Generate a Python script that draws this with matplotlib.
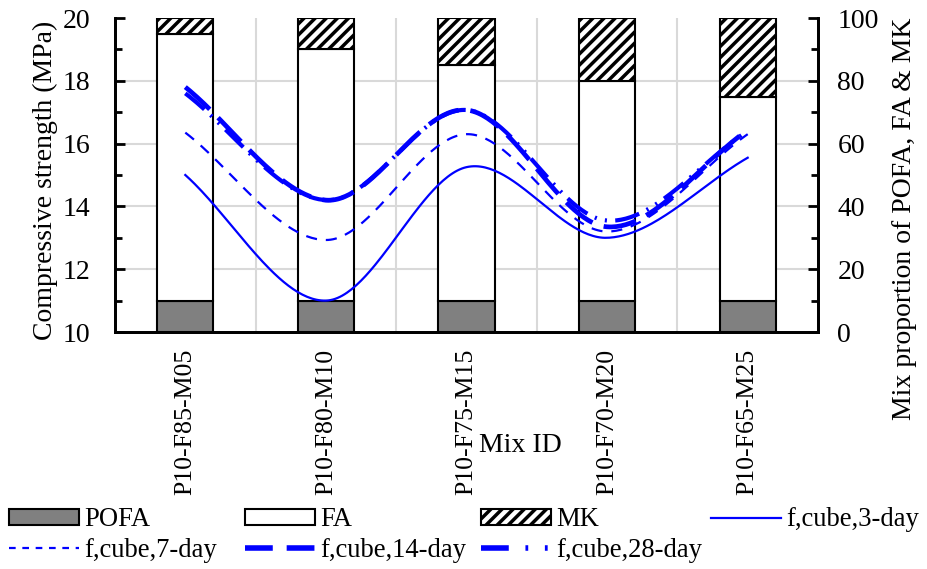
import numpy as np
import matplotlib
matplotlib.use("Agg")
import matplotlib.pyplot as plt
from matplotlib.patches import Patch
from matplotlib.lines import Line2D
from matplotlib.ticker import MultipleLocator

plt.rcParams['font.family'] = ['Liberation Serif', 'DejaVu Serif']
plt.rcParams['hatch.linewidth'] = 2.5

mix_ids = ["P10-F85-M05", "P10-F80-M10", "P10-F75-M15", "P10-F70-M20", "P10-F65-M25"]
pofa = [10, 10, 10, 10, 10]
fa = [85, 80, 75, 70, 65]
mk = [5, 10, 15, 20, 25]
f3 = [15.0, 11.0, 15.25, 13.0, 15.55]
f7 = [16.35, 12.93, 16.3, 13.2, 16.3]
f14 = [17.8, 14.2, 17.07, 13.35, 16.43]
f28 = [17.6, 14.2, 17.07, 13.55, 16.4]

FS = 20
FS_LEG = 19.2
FS_TICK = 18.6

def catmull(xs, ys, n=60):
    xs = np.asarray(xs, float); ys = np.asarray(ys, float)
    px = np.concatenate([[2*xs[0]-xs[1]], xs, [2*xs[-1]-xs[-2]]])
    py = np.concatenate([[2*ys[0]-ys[1]], ys, [2*ys[-1]-ys[-2]]])
    ox, oy = [], []
    for i in range(1, len(px)-2):
        t = np.linspace(0, 1, n, endpoint=False)
        for p, o in ((px, ox), (py, oy)):
            p0, p1, p2, p3 = p[i-1], p[i], p[i+1], p[i+2]
            o.extend(0.5*((2*p1) + (-p0+p2)*t + (2*p0-5*p1+4*p2-p3)*t**2 + (-p0+3*p1-3*p2+p3)*t**3))
    ox.append(xs[-1]); oy.append(ys[-1])
    return np.array(ox), np.array(oy)

fig = plt.figure(figsize=(9.28, 5.69), dpi=100)
ax2 = fig.add_axes([115/928, 1-332/569, 703/928, 314/569])
ax = ax2.twinx()
x = np.arange(len(mix_ids))

ax2.set_zorder(0); ax.set_zorder(1); ax.patch.set_visible(False)

bw = 0.4
ax2.set_ylim(0, 100)
ax2.bar(x, pofa, bw, color='#808080', edgecolor='black', linewidth=1.5, zorder=3)
ax2.bar(x, fa, bw, bottom=pofa, color='white', edgecolor='black', linewidth=1.5, zorder=3)
ax2.bar(x, mk, bw, bottom=np.array(pofa)+np.array(fa), color='white', edgecolor='black',
        hatch='///', linewidth=1.5, zorder=3)
ax2.set_xlim(-0.5, len(mix_ids)-0.5)

for xv in np.arange(-0.5, len(mix_ids)+0.5, 1.0):
    ax2.axvline(xv, color='#d9d9d9', lw=1.5, zorder=1)
for yv in np.arange(20, 100, 20):
    ax2.axhline(yv, color='#d9d9d9', lw=1.5, zorder=1)

ax.set_ylim(10, 20)
cx, cy = catmull(x, f3); ax.plot(cx, cy, color='#0000ff', lw=1.6)
cx, cy = catmull(x, f7); ax.plot(cx, cy, color='#0000ff', lw=1.6, ls=(0, (5, 4)))
cx, cy = catmull(x, f14); ax.plot(cx, cy, color='#0000ff', lw=3.4, ls=(0, (7, 2.5)))
cx, cy = catmull(x, f28); ax.plot(cx, cy, color='#0000ff', lw=3.0, ls=(0, (6, 2, 0.5, 2, 0.5, 2)))

ax.yaxis.tick_left(); ax2.yaxis.tick_right()

ax.yaxis.set_major_locator(MultipleLocator(2))
ax.yaxis.set_minor_locator(MultipleLocator(1))
ax2.yaxis.set_major_locator(MultipleLocator(20))
ax2.yaxis.set_minor_locator(MultipleLocator(10))
for a in (ax, ax2):
    a.tick_params(axis='y', which='both', direction='in', width=2, labelsize=FS)
    a.tick_params(axis='y', which='major', length=7)
    a.tick_params(axis='y', which='minor', length=5)
    a.spines['top'].set_visible(False)
    for s in ('left', 'right', 'bottom'):
        a.spines[s].set_linewidth(2)
ax.tick_params(axis='y', pad=18)
ax2.tick_params(axis='y', pad=14)
ax2.set_xticks(x)
ax2.set_xticklabels(mix_ids, rotation=90, fontsize=FS_TICK)
ax2.tick_params(axis='x', which='major', direction='in', length=5, width=1.5, pad=12)
ax.tick_params(axis='x', which='both', bottom=False, labelbottom=False)

fig.text(45/928, 1-180/569, "Compressive strength (MPa)", fontsize=FS,
         rotation=90, ha='center', va='center')
fig.text(905/928, 1-219/569, "Mix proportion of POFA, FA & MK", fontsize=FS,
         rotation=90, ha='center', va='center')
fig.text(520/928, 1-445/569, "Mix ID", fontsize=FS, ha='center', va='center')

hp = dict(edgecolor='black', linewidth=1.5)
cols = [
    [(Patch(facecolor='#808080', **hp), "POFA"),
     (Line2D([], [], color='#0000ff', lw=1.6, ls=(0, (3, 3))), "f,cube,7-day")],
    [(Patch(facecolor='white', **hp), "FA"),
     (Line2D([], [], color='#0000ff', lw=4, ls=(0, (5, 2.5))), "f,cube,14-day")],
    [(Patch(facecolor='white', hatch='///', **hp), "MK"),
     (Line2D([], [], color='#0000ff', lw=4, ls=(0, (5, 3, 0.5, 3, 0.5, 3))), "f,cube,28-day")],
    [(Line2D([], [], color='#0000ff', lw=1.6), "f,cube,3-day")],
]
xs_leg = [4, 240, 476, 706]
for xl, col in zip(xs_leg, cols):
    fig.legend([c[0] for c in col], [c[1] for c in col], loc='upper left',
               bbox_to_anchor=(xl/928, 1-502/569), frameon=False, fontsize=FS_LEG,
               handlelength=2.6, handleheight=0.55, handletextpad=0.2,
               labelspacing=0.22, borderpad=0.2, borderaxespad=0)

fig.savefig("out.png", dpi=100)
